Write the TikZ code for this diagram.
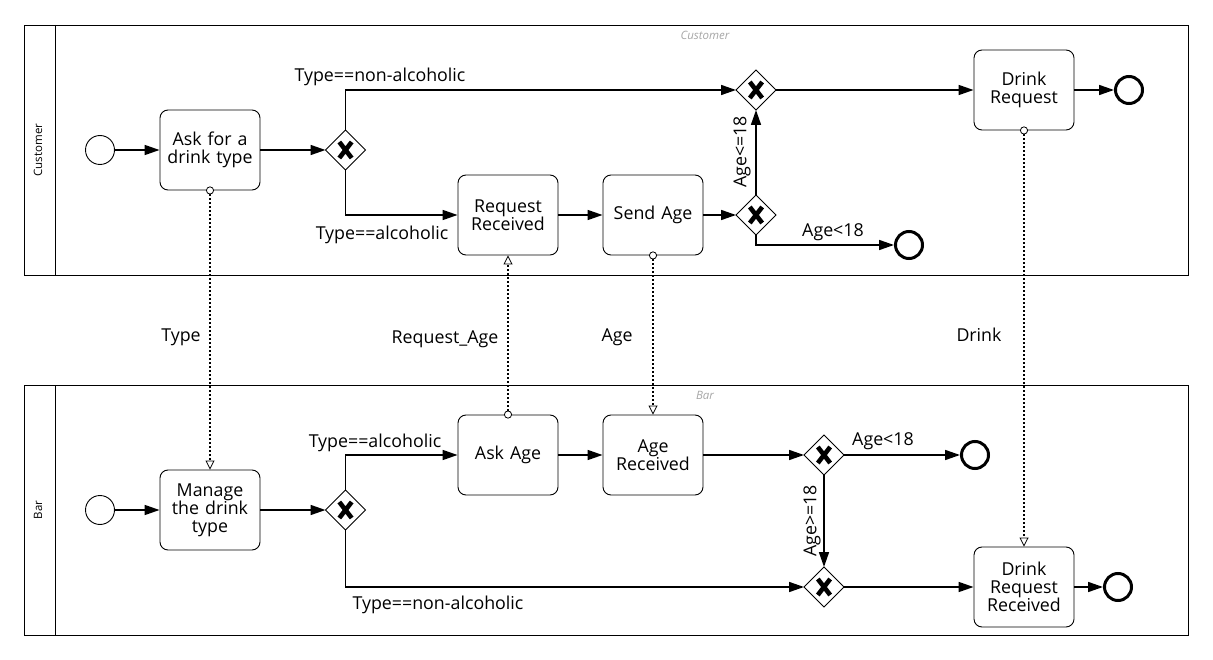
\documentclass[tikz,border=0pt]{standalone}
\usepackage{fontspec}
\setmainfont{Open Sans}
\usetikzlibrary{arrows.meta,shapes.geometric}
\begin{document}
\begin{tikzpicture}[x=1pt,y=-1pt,
 task/.style={draw,rounded corners=8pt,minimum width=100pt,minimum height=80pt,align=center,font=\fontsize{17.8}{18}\selectfont,line width=0.9pt,inner sep=2pt,text width=96pt},
 gw/.style={draw,diamond,aspect=1,minimum width=40pt,minimum height=40pt,inner sep=0pt,outer sep=0pt,line width=0.9pt,
   path picture={\draw[line width=4.6pt] ([shift={(-6.2,-8)}]path picture bounding box.center) -- ([shift={(6.2,8)}]path picture bounding box.center)
     ([shift={(6.2,-8)}]path picture bounding box.center) -- ([shift={(-6.2,8)}]path picture bounding box.center);}},
 startev/.style={draw,circle,minimum size=29pt,inner sep=0pt,line width=0.9pt},
 endev/.style={draw,circle,minimum size=27pt,inner sep=0pt,line width=3pt},
 flow/.style={line width=1.6pt,-{Triangle[length=15pt,width=10pt]}},
 msg/.style={line width=2.2pt,dash pattern=on 2pt off 2pt,shorten <=-4pt,{Circle[length=8pt,width=8pt,fill=white,line width=0.8pt]}-{Triangle[open,length=9pt,width=9pt,fill=white,line width=0.8pt]}},
 lbl/.style={font=\fontsize{17.8}{18}\selectfont,inner sep=0pt},
 pool/.style={draw,line width=0.9pt},
 poollbl/.style={font=\fontsize{11.5}{13}\selectfont,rotate=90,inner sep=0pt},
 tag/.style={font=\fontsize{11.5}{13}\selectfont\itshape,text=black!35,inner sep=0pt}
]
\useasboundingbox (0,0) rectangle (1213,660);
% pools
\draw[pool] (24,25) rectangle (1188,275);
\draw[pool] (55,25) -- (55,275);
\draw[pool] (24,385) rectangle (1188,635);
\draw[pool] (55,385) -- (55,635);
\node[poollbl] (pc) at (38,150) {Customer};
\node[poollbl] (pb) at (38,510) {Bar};
\node[tag] (tc) at (705,35) {Customer};
\node[tag] (tb) at (705,395) {Bar};

% Customer
\node[startev] (cs) at (100,150) {};
\node[task] (ask) at (210,150) {Ask for a\\drink type};
\node[gw] (g1) at (345.5,150) {};
\node[gw] (g2) at (756,90) {};
\node[task] (rr) at (508,215) {Request\\Received};
\node[task] (sa) at (653,215) {Send Age};
\node[gw] (g3) at (756,215) {};
\node[endev] (ce1) at (909,245) {};
\node[task] (dr) at (1024,90) {Drink\\Request};
\node[endev] (ce2) at (1129,90) {};

\draw[flow] (cs) -- (ask);
\draw[flow] (ask) -- (g1);
\draw[flow] (g1.north) |- (g2.west);
\draw[flow] (g1.south) |- (rr.west);
\draw[flow] (rr) -- (sa);
\draw[flow] (sa) -- (g3);
\draw[flow] (g3.north) -- (g2.south);
\draw[flow] (g3.south) |- (ce1.west);
\draw[flow] (g2) -- (dr);
\draw[flow] (dr) -- (ce2);

\node[lbl] (l1) at (380,77) {Type==non-alcoholic};
\node[lbl] (l2) at (382,235) {Type==alcoholic};
\node[lbl,rotate=90] (l3) at (742,152) {Age<=18};
\node[lbl] (l4) at (833,232) {Age<18};

% Bar
\node[startev] (bs) at (100,510) {};
\node[task] (mg) at (210,510) {Manage\\the drink\\type};
\node[gw] (b1) at (345.5,510) {};
\node[task] (aa) at (508,455) {Ask Age};
\node[task] (ar) at (653,455) {Age\\Received};
\node[gw] (b2) at (824,455) {};
\node[endev] (be1) at (975,455) {};
\node[gw] (b3) at (824,587) {};
\node[task] (drr) at (1024,587) {Drink\\Request\\Received};
\node[endev] (be2) at (1118,587) {};

\draw[flow] (bs) -- (mg);
\draw[flow] (mg) -- (b1);
\draw[flow] (b1.north) |- (aa.west);
\draw[flow] (b1.south) |- (b3.west);
\draw[flow] (aa) -- (ar);
\draw[flow] (ar) -- (b2);
\draw[flow] (b2) -- (be1);
\draw[flow] (b2.south) -- (b3.north);
\draw[flow] (b3) -- (drr);
\draw[flow] (drr) -- (be2);

\node[lbl] (m1) at (375,443) {Type==alcoholic};
\node[lbl] (m2) at (883,441) {Age<18};
\node[lbl,rotate=90] (m3) at (812,521) {Age>=18};
\node[lbl] (m4) at (438,605) {Type==non-alcoholic};

% message flows
\draw[msg] (ask.south) -- (mg.north);
\draw[msg] (aa.north) -- (rr.south);
\draw[msg] (sa.south) -- (ar.north);
\draw[msg] (dr.south) -- (drr.north);
\node[lbl] (f1) at (181,337) {Type};
\node[lbl] (f2) at (445,339) {Request\_Age};
\node[lbl] (f3) at (617,337) {Age};
\node[lbl] (f4) at (979,335) {Drink};
\end{tikzpicture}
\end{document}
